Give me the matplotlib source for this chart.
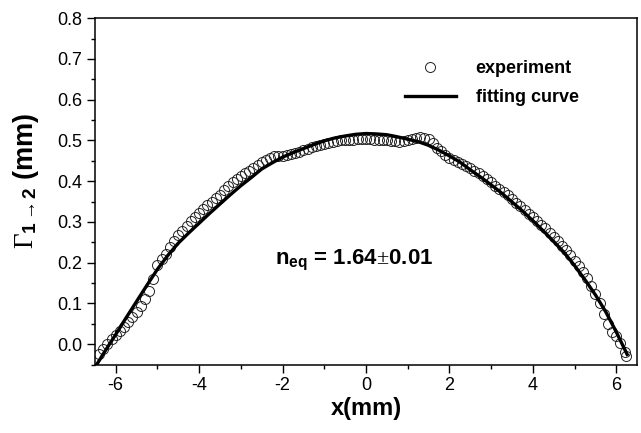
import matplotlib
matplotlib.use("Agg")
import matplotlib.pyplot as plt
from matplotlib.ticker import MultipleLocator

plt.rcParams['font.family'] = ['Liberation Sans', 'DejaVu Sans']
plt.rcParams['axes.unicode_minus'] = False
plt.rcParams['mathtext.fontset'] = 'custom'
plt.rcParams['mathtext.rm'] = 'Liberation Serif'
plt.rcParams['mathtext.it'] = 'Liberation Serif:italic'
plt.rcParams['mathtext.bf'] = 'Liberation Sans:bold'

# experiment
x_exp = [-6.40, -6.30, -6.20, -6.10, -6.00, -5.90, -5.80, -5.70, -5.60, -5.50,
         -5.40, -5.30, -5.20, -5.10, -5.00, -4.90, -4.80, -4.70, -4.60, -4.50,
         -4.40, -4.30, -4.20, -4.10, -4.00, -3.90, -3.80, -3.70, -3.60, -3.50,
         -3.40, -3.30, -3.20, -3.10, -3.00, -2.90, -2.80, -2.70, -2.60, -2.50,
         -2.40, -2.30, -2.20, -2.10, -2.00, -1.90, -1.80, -1.70, -1.60, -1.50,
         -1.40, -1.30, -1.20, -1.10, -1.00, -0.90, -0.80, -0.70, -0.60, -0.50,
         -0.40, -0.30, -0.20, -0.10, 0.00, 0.10, 0.20, 0.30, 0.40, 0.50,
         0.60, 0.70, 0.80, 0.90, 1.00, 1.10, 1.20, 1.30, 1.40, 1.50,
         1.60, 1.70, 1.80, 1.90, 2.00, 2.10, 2.20, 2.30, 2.40, 2.50,
         2.60, 2.70, 2.80, 2.90, 3.00, 3.10, 3.20, 3.30, 3.40, 3.50,
         3.60, 3.70, 3.80, 3.90, 4.00, 4.10, 4.20, 4.30, 4.40, 4.50,
         4.60, 4.70, 4.80, 4.90, 5.00, 5.10, 5.20, 5.30, 5.40, 5.50,
         5.60, 5.70, 5.80, 5.90, 6.00, 6.10, 6.20, 6.24]
y_exp = [-0.025, -0.012, 0.000, 0.012, 0.022, 0.033, 0.043, 0.054, 0.066, 0.080,
         0.094, 0.110, 0.130, 0.160, 0.195, 0.210, 0.222, 0.238, 0.254, 0.268,
         0.279, 0.290, 0.302, 0.313, 0.323, 0.332, 0.341, 0.350, 0.358, 0.367,
         0.378, 0.389, 0.398, 0.405, 0.412, 0.419, 0.425, 0.432, 0.440, 0.447,
         0.452, 0.457, 0.461, 0.462, 0.463, 0.464, 0.466, 0.469, 0.472, 0.476,
         0.479, 0.483, 0.487, 0.490, 0.492, 0.494, 0.497, 0.499, 0.500, 0.501,
         0.502, 0.502, 0.503, 0.503, 0.503, 0.503, 0.502, 0.502, 0.501, 0.500,
         0.499, 0.498, 0.497, 0.498, 0.500, 0.504, 0.507, 0.508, 0.507, 0.503,
         0.493, 0.482, 0.473, 0.464, 0.458, 0.452, 0.447, 0.442, 0.437, 0.432,
         0.426, 0.420, 0.413, 0.406, 0.398, 0.389, 0.381, 0.374, 0.365, 0.356,
         0.347, 0.338, 0.329, 0.320, 0.311, 0.302, 0.293, 0.284, 0.274, 0.264,
         0.253, 0.242, 0.230, 0.218, 0.205, 0.192, 0.177, 0.162, 0.143, 0.122,
         0.100, 0.075, 0.050, 0.030, 0.020, 0.004, -0.020, -0.028]

# fitting curve
x_fit = [-6.45, -6.25, -6.00, -5.75, -5.50, -5.25, -5.00, -4.75, -4.50, -4.25,
         -4.00, -3.75, -3.50, -3.25, -3.00, -2.75, -2.50, -2.25, -2.00, -1.75,
         -1.50, -1.25, -1.00, -0.75, -0.50, -0.25, 0.00, 0.25, 0.50, 0.75,
         1.00, 1.25, 1.50, 1.75, 2.00, 2.25, 2.50, 2.75, 3.00, 3.25,
         3.50, 3.75, 4.00, 4.25, 4.50, 4.75, 5.00, 5.25, 5.50, 5.75,
         6.00, 6.26]
y_fit = [-0.049, -0.016, 0.024, 0.065, 0.105, 0.145, 0.184, 0.218, 0.248, 0.273,
         0.297, 0.321, 0.344, 0.367, 0.389, 0.409, 0.430, 0.445, 0.459, 0.470,
         0.480, 0.490, 0.499, 0.506, 0.511, 0.515, 0.517, 0.516, 0.514, 0.509,
         0.503, 0.497, 0.488, 0.476, 0.462, 0.447, 0.428, 0.410, 0.391, 0.371,
         0.349, 0.327, 0.303, 0.278, 0.252, 0.225, 0.193, 0.158, 0.121, 0.079,
         0.030, -0.025]

fig = plt.figure(figsize=(6.41, 4.33), dpi=100)
ax = fig.add_axes([0.148, 0.158, 0.846, 0.80])

ax.plot(x_exp, y_exp, linestyle="none", marker="o", markersize=7.2,
        markerfacecolor="none", markeredgecolor="#222222", markeredgewidth=0.7,
        label="experiment")
ax.plot(x_fit, y_fit, color="black", linewidth=2.4, label="fitting curve")

ax.set_xlim(-6.5, 6.5)
ax.set_ylim(-0.05, 0.8)
ax.xaxis.set_major_locator(MultipleLocator(2))
ax.xaxis.set_minor_locator(MultipleLocator(1))
ax.yaxis.set_major_locator(MultipleLocator(0.1))
ax.yaxis.set_minor_locator(MultipleLocator(0.05))
ax.yaxis.set_major_formatter(plt.FormatStrFormatter("%.1f"))
ax.tick_params(which="major", direction="out", length=5.5, width=1, labelsize=13)
ax.tick_params(which="minor", direction="out", length=3, width=1)
for s in ax.spines.values():
    s.set_linewidth(1.1)

ax.set_xlabel("x(mm)", fontsize=17, fontweight="bold", labelpad=2)
ax.set_ylabel(r"$\Gamma_{\mathbf{1\rightarrow 2}}$ (mm)", fontsize=19.5,
              fontweight="bold")
ax.yaxis.set_label_coords(-0.10, 0.532)

ax.text(-2.18, 0.197, r"$\mathbf{n_{eq}}$ = 1.64$\pm$0.01", fontsize=16,
        fontweight="bold", va="baseline")

ax.legend(loc="center", bbox_to_anchor=(0.732, 0.812), frameon=False,
          prop={"weight": "bold", "size": 13},
          handlelength=2.8, handletextpad=1.1, labelspacing=0.65)

fig.savefig("out.png", dpi=100)
